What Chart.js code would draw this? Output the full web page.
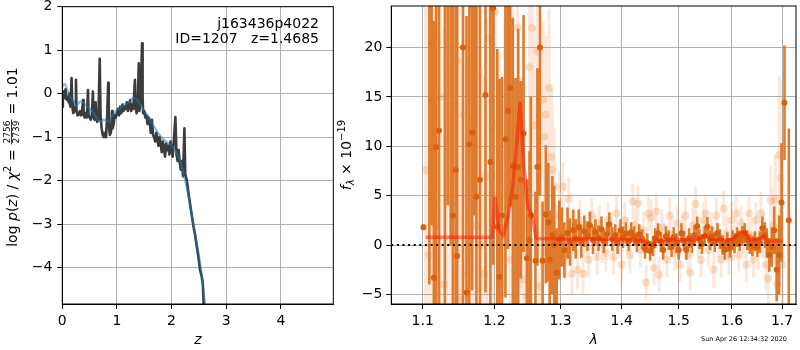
<!DOCTYPE html>
<html>
<head>
<meta charset="utf-8">
<script src="https://cdn.jsdelivr.net/npm/chart.js@4.4.1/dist/chart.umd.min.js"></script>
<style>
  html, body { margin: 0; padding: 0; background: #fff; }
  #wrap { position: relative; width: 800px; height: 350px; overflow: hidden; }
  canvas { position: absolute; top: 0; }
  #pz { left: 0; }
  #spec { left: 330px; }
</style>
</head>
<body>
<div id="wrap">
  <canvas id="pz" width="340" height="350"></canvas>
  <canvas id="spec" width="470" height="350"></canvas>
</div>
<script>
// ---- left panel: log p(z) ----
const zGrid = [
  0.00, 0.01, 0.02, 0.03, 0.04, 0.05, 0.06, 0.07, 0.08, 0.09,
  0.10, 0.12, 0.13, 0.14, 0.15, 0.17, 0.18, 0.19, 0.20, 0.22,
  0.24, 0.25, 0.26, 0.28, 0.30, 0.32, 0.34, 0.36, 0.38, 0.39,
  0.41, 0.43, 0.45, 0.47, 0.48, 0.50, 0.52, 0.54, 0.56, 0.57,
  0.59, 0.61, 0.62, 0.64, 0.66, 0.685, 0.70, 0.72, 0.74, 0.76,
  0.78, 0.80, 0.82, 0.84, 0.85, 0.87, 0.89, 0.91, 0.92, 0.94,
  0.96, 0.98, 1.00, 1.02, 1.04, 1.06, 1.08, 1.10, 1.12, 1.14,
  1.16, 1.18, 1.20, 1.22, 1.24, 1.26, 1.28, 1.30, 1.33, 1.34,
  1.36, 1.38, 1.40, 1.41, 1.43, 1.445, 1.46, 1.47, 1.48, 1.50,
  1.52, 1.54, 1.56, 1.58, 1.60, 1.62, 1.64, 1.66, 1.68, 1.70,
  1.72, 1.74, 1.76, 1.78, 1.80, 1.82, 1.84, 1.86, 1.88, 1.90,
  1.92, 1.94, 1.96, 1.98, 2.00, 2.02, 2.04, 2.07, 2.09, 2.11,
  2.13, 2.15, 2.17, 2.19, 2.21, 2.235, 2.25, 2.28, 2.31, 2.34,
  2.37, 2.40, 2.43, 2.46, 2.49, 2.52, 2.55, 2.57, 2.59, 2.61
];
const logPz = [
  -0.30, -0.05, 0.05, -0.10, 0.02, -0.08, 0.10, -0.12, -0.05, -0.15,
  -0.10, -0.20, 0.00, -0.25, -0.30, 0.36, -0.20, -0.35, -0.45, -0.40,
  -0.30, 0.32, -0.40, -0.50, -0.48, -0.40, -0.50, -0.45, -0.15, -0.50,
  -0.55, -0.45, -0.55, 0.08, -0.50, -0.55, -0.60, -0.50, 0.05, -0.55,
  -0.60, -0.20, -0.60, -0.65, -0.60, 0.80, -0.50, -0.80, -0.95, -1.00,
  -0.90, -1.00, -0.55, 0.25, -0.70, -0.95, -0.90, -0.40, -0.80, -0.70,
  -0.50, -0.55, -0.45, -0.35, -0.50, -0.30, -0.45, -0.25, -0.40, -0.30,
  -0.35, -0.20, -0.40, -0.30, -0.15, -0.40, -0.25, -0.35, 0.32, -0.30,
  -0.45, -0.25, 0.70, -0.40, -0.20, 0.45, 1.16, -0.10, -0.45, -0.40,
  -0.55, -0.50, -0.70, -0.55, -0.65, -0.90, -0.60, -0.95, -1.00, -1.10,
  -0.90, -1.05, -1.20, -1.00, -1.15, -1.35, -1.10, -1.25, -1.45, -1.15,
  -1.30, -1.20, -1.40, -1.10, -1.30, -1.45, -1.10, -0.54, -1.40, -1.55,
  -1.30, -1.60, -1.75, -1.55, -1.90, -0.80, -1.85, -2.00, -2.30, -2.55,
  -2.80, -3.05, -3.25, -3.50, -3.75, -4.05, -4.20, -4.35, -4.90, -5.30
];
const zSmooth = [
  0.00, 0.03, 0.06, 0.10, 0.15, 0.20, 0.25, 0.30, 0.35, 0.40, 0.45,
  0.50, 0.55, 0.60, 0.65, 0.70, 0.75, 0.80, 0.85, 0.90, 0.95,
  1.00, 1.05, 1.10, 1.15, 1.20, 1.25, 1.30, 1.35, 1.40, 1.45,
  1.50, 1.55, 1.60, 1.65, 1.70, 1.75, 1.80, 1.85, 1.90, 1.95,
  2.00, 2.05, 2.10, 2.15, 2.20, 2.25, 2.30, 2.35, 2.40, 2.45,
  2.50, 2.55, 2.60, 2.63
];
const logPzSmooth = [
  0.15, 0.22, 0.20, 0.05, -0.08, -0.15, -0.28, -0.22, -0.17, -0.22, -0.30,
  -0.35, -0.40, -0.50, -0.60, -0.65, -0.60, -0.62, -0.65, -0.55, -0.45,
  -0.38, -0.35, -0.28, -0.25, -0.22, -0.15, -0.10, -0.12, -0.20, -0.30,
  -0.40, -0.48, -0.58, -0.70, -0.80, -0.90, -0.98, -1.05, -1.10, -1.15,
  -1.20, -1.28, -1.38, -1.52, -1.75, -2.00, -2.30, -2.65, -3.00, -3.35,
  -3.72, -4.15, -4.70, -5.10
];
const zTicks = [0, 1, 2, 3, 4];
const pzTicks = [-4, -3, -2, -1, 0, 1, 2];
const objName = 'j163436p4022';
const objInfo = 'ID=1207   z=1.4685';

// ---- right panel: spectrum ----
const waveTicks = [1.1, 1.2, 1.3, 1.4, 1.5, 1.6, 1.7];
const fluxTicks = [-5, 0, 5, 10, 15, 20];

const darkWave = [
  1.101, 1.109, 1.112, 1.115, 1.118, 1.122, 1.130, 1.134, 1.138, 1.141,
  1.145, 1.147, 1.155, 1.160, 1.164, 1.168, 1.171, 1.174, 1.179, 1.187,
  1.194, 1.198, 1.204, 1.207, 1.211,
  1.216, 1.220, 1.223, 1.227, 1.231, 1.235, 1.239, 1.243, 1.248, 1.252,
  1.254, 1.261, 1.264, 1.268, 1.272, 1.277, 1.281, 1.283, 1.287, 1.290,
  1.294, 1.298,
  1.302, 1.306, 1.311, 1.315, 1.320, 1.324, 1.329, 1.333, 1.338, 1.343,
  1.347, 1.352, 1.356, 1.361, 1.366, 1.370, 1.375, 1.379, 1.384, 1.389,
  1.393, 1.398, 1.402, 1.407, 1.412, 1.416, 1.421, 1.426, 1.430, 1.435,
  1.440, 1.444, 1.449, 1.454, 1.458, 1.463, 1.468, 1.472, 1.477, 1.482,
  1.487, 1.491, 1.496, 1.500, 1.505, 1.510, 1.514, 1.519, 1.524, 1.529,
  1.534, 1.538, 1.543, 1.548, 1.553, 1.558, 1.562, 1.567, 1.572, 1.577,
  1.582, 1.586, 1.591, 1.596, 1.601, 1.605, 1.610, 1.615, 1.620, 1.625,
  1.630, 1.635, 1.640, 1.645, 1.650, 1.655, 1.660, 1.665, 1.669, 1.674,
  1.679, 1.684, 1.689, 1.694, 1.699, 1.705, 1.714
];
const darkFlux = [
  1.8, 26, 32, -3.3, 9.9, 11.6, 28, 26, 30, 3.0,
  7.6, -1.1, 20, -4.8, 10.2, 11.4, 28, 4.9, 6.6, 15.2,
  8.4, 24, 1.85, -3.2, 3.0,
  10.7, 13.6, 15.9, 8.0, 4.9, 7.9, 6.6, 11.3, -1.35, 0.5,
  3.0, -1.6, 7.9, 20, -1.6, 3.1, 2.3, -1.5, 1.0, 0.0,
  -2.8, 0.5,
  0.8, -0.5, 1.2, 0.3, 1.5, 0.6, 1.8, 0.4, 1.4, 0.9,
  2.0, 0.5, 1.3, 0.7, 1.6, 0.4, 1.1, 2.1, 0.6, 1.0,
  0.2, 1.5, 0.8, 1.2, 0.4, 1.3, 0.9, 0.3, 1.1, 0.6,
  -0.4, 0.2, -0.6, -0.1, 0.7, 1.2, 0.3, -0.5, 0.9, 0.5,
  -0.2, 0.8, 0.2, -0.5, 1.2, 0.4, -0.5, 0.7, 0.2, 1.0,
  1.9, 0.6, 0.1, 0.9, 1.85, 0.5, 0.9, 0.3, 1.2, 0.6,
  0.0, -0.5, 0.3, -0.3, 0.5, 0.2, 0.8, 0.4, 0.9, 1.2,
  0.5, 0.1, -0.1, 0.4, -0.2, 0.3, 1.7, 1.0, 0.2, -1.0,
  -0.2, 1.5, -2.5, -1.0, 4.3, 14.4, 2.5
];
const darkErr = [
  0.3, 30, 30, 26, 28, 24, 35, 22, 30, 25,
  22, 26, 26, 28, 18, 16, 25, 22, 20, 20,
  16, 26, 18, 20, 14,
  16, 14, 12, 15, 12, 14, 10, 12, 8, 9,
  12, 7, 10, 15, 6, 7, 6, 5, 6, 6,
  4.5, 4,
  3.0, 2.8, 2.6, 2.4, 2.1, 2.0, 1.8, 1.7, 1.6, 1.5,
  1.4, 1.4, 1.3, 1.3, 1.3, 1.2, 1.2, 1.2, 1.2, 1.1,
  1.1, 1.1, 1.1, 1.1, 1.0, 1.0, 1.0, 1.0, 1.0, 1.0,
  1.0, 1.0, 1.0, 1.0, 1.0, 1.0, 1.0, 1.0, 1.0, 1.0,
  1.0, 1.0, 1.0, 1.0, 1.0, 1.0, 1.0, 1.0, 1.0, 1.0,
  1.0, 1.0, 1.0, 1.0, 1.0, 1.0, 1.0, 1.0, 1.0, 1.0,
  1.0, 1.0, 1.0, 1.0, 1.0, 1.0, 1.0, 1.0, 1.0, 1.0,
  1.0, 1.0, 1.0, 1.0, 1.0, 1.1, 1.2, 1.3, 1.5, 1.7,
  2.0, 2.4, 3.2, 4.0, 6.0, 5.8, 9.3
];

const faintWave = [
  1.104, 1.108, 1.113, 1.118, 1.124, 1.129, 1.133, 1.138, 1.143, 1.147,
  1.151, 1.156, 1.160, 1.165, 1.169, 1.173, 1.177, 1.181, 1.185, 1.189,
  1.193, 1.197, 1.201, 1.207, 1.211, 1.215, 1.219, 1.223, 1.226, 1.230,
  1.234, 1.239, 1.243, 1.248, 1.252, 1.256, 1.259, 1.264, 1.268, 1.273,
  1.275, 1.277, 1.282, 1.286, 1.287, 1.290, 1.294, 1.298,
  1.304, 1.308, 1.313, 1.318, 1.322, 1.327, 1.331, 1.336, 1.340, 1.345,
  1.350, 1.354, 1.359, 1.363, 1.368, 1.373, 1.377, 1.382, 1.386, 1.391,
  1.396, 1.400, 1.405, 1.409, 1.414, 1.419, 1.423, 1.428, 1.432, 1.437,
  1.442, 1.446, 1.451, 1.456, 1.460, 1.465, 1.470, 1.474, 1.479, 1.484,
  1.488, 1.493, 1.498, 1.502, 1.507, 1.512, 1.517, 1.521, 1.526, 1.531,
  1.536, 1.541, 1.546, 1.550, 1.555, 1.560, 1.565, 1.570, 1.574, 1.579,
  1.584, 1.589, 1.594, 1.599, 1.603, 1.608, 1.613, 1.618, 1.623, 1.628,
  1.633, 1.637, 1.642, 1.647, 1.652, 1.657, 1.662, 1.667, 1.672, 1.677,
  1.682, 1.686, 1.690, 1.694, 1.697, 1.701
];
const faintFlux = [
  7.6, -1, 19, 2, 15, -4, 4.9, 22, 14.2, 18.6,
  -5.5, 13.2, -3, 24.5, 10.5, 2, 17.2, 0, -2.9, 7,
  21, 12, 23.6, 4.9, -4, 9, 19.4, -1.5, 16, -2.5,
  22, 6, -3.5, -5.2, 18, 22.0, 12.1, 19.6, -4.2, 14.7,
  11.0, 13.2, 15.9, 8.9, 7.6, 5.9, -1, 3,
  5.9, -1, 4.7, -2.9, 1.5, -2.5, 2.5, -2.9, 0.5, -1.5,
  3.0, 1.2, -1.2, 2.2, 0.0, -0.8, 2.5, 1.5, -1.2, 3.2,
  0.5, -2.0, 2.5, 1.0, -1.0, 4.4, 2.0, 4.2, -0.5, 1.5,
  -3.8, 3.2, 2.8, -2.3, 3.4, -3.0, 1.8, 0.5, -1.5, 3.0,
  1.0, -0.8, 2.2, -2.0, 1.2, 3.0, -1.0, -2.8, 2.0, 4.15,
  0.5, -1.5, 2.5, 3.2, -0.5, 1.5, -2.5, 3.0, 0.5, -1.5,
  3.7, 1.2, -1.2, 2.5, 0.2, 3.2, -1.0, 2.2, 0.5, -2.0,
  3.2, 1.0, -1.5, 2.5, -0.5, 3.2, 1.0, -2.0, -3.4, 4.5,
  2.0, 4.6, -4.0, 9.1, 6.75, -2
];
const faintErr = [
  28, 25, 28, 26, 25, 26, 24, 30, 22, 28,
  25, 20, 22, 26, 20, 18, 22, 18, 20, 16,
  20, 18, 22, 15, 15, 14, 15, 12, 12, 12,
  14, 11, 10, 10, 11, 12, 10, 9, 9, 8,
  9, 8, 8, 7, 6, 6, 5, 4.5,
  2.5, 2.5, 2.2, 2.2, 2.0, 2.0, 2.0, 2.0, 1.8, 1.8,
  1.8, 1.8, 1.8, 1.8, 1.8, 1.8, 1.8, 1.8, 1.8, 1.8,
  1.8, 1.8, 1.8, 1.8, 1.8, 1.8, 1.8, 1.8, 1.8, 1.8,
  1.8, 1.8, 1.8, 1.8, 1.8, 1.8, 1.8, 1.8, 1.8, 1.8,
  1.8, 1.8, 1.8, 1.8, 1.8, 1.8, 1.8, 1.8, 1.8, 1.8,
  1.8, 1.8, 1.8, 1.8, 1.8, 1.8, 1.8, 1.8, 1.8, 1.8,
  1.8, 1.8, 1.8, 1.8, 1.8, 1.8, 1.8, 1.8, 1.8, 1.8,
  1.8, 1.8, 1.8, 1.8, 2.0, 2.2, 2.4, 2.6, 3.0, 3.5,
  4.0, 4.5, 5.0, 8, 10, 15
];

const modelWave = [
  1.104, 1.197, 1.2005, 1.207, 1.213, 1.220, 1.227, 1.233, 1.238, 1.243,
  1.249, 1.256, 1.262, 1.30, 1.35, 1.40, 1.43, 1.445, 1.452, 1.46,
  1.48, 1.50, 1.53, 1.55, 1.56, 1.60, 1.615, 1.625, 1.635, 1.65,
  1.662, 1.672, 1.70
];
const modelFlux = [
  0.8, 0.8, 4.9, 1.4, 1.0, 3.0, 6.0, 10.5, 14.5, 8.5,
  4.0, 3.0, 0.65, 0.6, 0.6, 0.55, 0.5, 0.15, 0.0, 0.45,
  0.5, 0.55, 0.5, 1.0, 0.55, 0.5, 1.3, 1.3, 0.5, 0.6,
  0.85, 0.4, 0.4
];
const timeStamp = 'Sun Apr 26 12:34:32 2020';

// ---------------------------------------------------------------
const FAMILY = "'DejaVu Sans', sans-serif";
Chart.defaults.font.family = FAMILY;
Chart.defaults.font.size = 14;
Chart.defaults.color = '#000';

const fmtTick = (v) => (v < 0 ? '\u2212' + Math.abs(v) : String(v));

function pairs(xs, ys) {
  return xs.map((x, i) => ({ x, y: ys[i] }));
}

// vertical error bars as one broken line: low, high, gap
function errorBars(xs, ys, es) {
  const out = [];
  xs.forEach((x, i) => {
    out.push({ x, y: ys[i] - es[i] }, { x, y: ys[i] + es[i] }, { x, y: null });
  });
  return out;
}

function fixedTicks(values) {
  return (scale) => {
    scale.ticks = values.map((value) => ({ value }));
  };
}

function noEdgePadding(size, key) {
  return (scale) => {
    scale[key] = size;
    scale.paddingTop = 0;
    scale.paddingBottom = 0;
    scale.paddingLeft = 0;
    scale.paddingRight = 0;
  };
}

const gridStyle = {
  color: '#b0b0b0',
  lineWidth: 1,
  tickColor: '#000',
  tickLength: 5,
  tickWidth: 1,
};
const borderStyle = { color: '#000', width: 1 };

const framePlugin = {
  id: 'frame',
  afterDatasetsDraw(chart) {
    const { ctx, chartArea: a } = chart;
    ctx.save();
    ctx.strokeStyle = '#000';
    ctx.lineWidth = 1;
    ctx.strokeRect(a.left, a.top, a.right - a.left, a.bottom - a.top);
    ctx.restore();
  },
};

// draw a rotated label built from runs of text (for sub/superscripts)
function drawRotatedRuns(ctx, cx, cy, runs) {
  ctx.save();
  ctx.translate(cx, cy);
  ctx.rotate(-Math.PI / 2);
  ctx.fillStyle = '#000';
  ctx.textBaseline = 'alphabetic';
  let total = 0;
  runs.forEach((r) => {
    ctx.font = r.font;
    if (r.frac) {
      r.w = Math.max(ctx.measureText(r.frac[0]).width, ctx.measureText(r.frac[1]).width) + 3;
    } else {
      r.w = ctx.measureText(r.t).width;
    }
    total += r.w;
  });
  let x = -total / 2;
  runs.forEach((r) => {
    ctx.font = r.font;
    if (r.frac) {
      ctx.textAlign = 'center';
      ctx.fillText(r.frac[0], x + r.w / 2, -1.8);
      ctx.fillText(r.frac[1], x + r.w / 2, 6.6);
      ctx.fillRect(x + 0.5, -0.9, r.w - 1, 0.8);
      ctx.textAlign = 'left';
    } else {
      ctx.textAlign = 'left';
      ctx.fillText(r.t, x, 5 + (r.dy || 0));
    }
    x += r.w;
  });
  ctx.restore();
}

const N14 = '14px ' + FAMILY;
const I14 = 'italic 14px ' + FAMILY;

// ---------------- left chart ----------------
new Chart(document.getElementById('pz'), {
  type: 'line',
  data: {
    datasets: [
      {
        data: pairs(zSmooth, logPzSmooth),
        borderColor: 'rgba(31,119,180,0.5)',
        borderWidth: 2.2,
        pointRadius: 0,
        tension: 0.35,
        clip: 0,
        order: 0,
      },
      {
        data: pairs(zGrid, logPz),
        borderColor: '#3c3c3c',
        borderWidth: 2.6,
        borderJoinStyle: 'round',
        pointRadius: 0,
        tension: 0,
        clip: 0,
        order: 1,
      },
    ],
  },
  options: {
    responsive: false,
    animation: false,
    events: [],
    layout: { padding: { left: 0, top: 6.7, right: 6.7, bottom: 0 } },
    plugins: { legend: { display: false }, tooltip: { enabled: false } },
    scales: {
      x: {
        type: 'linear',
        min: 0,
        max: 4.96,
        afterBuildTicks: fixedTicks(zTicks),
        afterFit: noEdgePadding(46, 'height'),
        grid: gridStyle,
        border: borderStyle,
        ticks: { padding: 4, autoSkip: false, maxRotation: 0, callback: fmtTick },
        title: {
          display: true,
          text: 'z',
          font: { style: 'italic', size: 14 },
          padding: { top: 0, bottom: 1 },
        },
      },
      y: {
        type: 'linear',
        min: -4.84,
        max: 2,
        afterBuildTicks: fixedTicks(pzTicks),
        afterFit: noEdgePadding(62.3, 'width'),
        grid: gridStyle,
        border: borderStyle,
        ticks: { padding: 5, autoSkip: false, callback: fmtTick },
      },
    },
  },
  plugins: [
    framePlugin,
    {
      id: 'pzText',
      afterDraw(chart) {
        const { ctx } = chart;
        ctx.save();
        ctx.fillStyle = '#000';
        ctx.font = N14;
        ctx.textAlign = 'right';
        ctx.textBaseline = 'middle';
        ctx.fillText(objName, 319, 24);
        ctx.fillText(objInfo, 319, 39);
        ctx.restore();
        drawRotatedRuns(ctx, 12, 157, [
          { t: 'log ', font: N14 },
          { t: 'p', font: I14 },
          { t: '(', font: N14 },
          { t: 'z', font: I14 },
          { t: ') / ', font: N14 },
          { t: '\u03C7', font: I14 },
          { t: '2', font: '10px ' + FAMILY, dy: -6 },
          { t: ' = ', font: N14 },
          { frac: ['2756', '2739'], font: '9px ' + FAMILY },
          { t: ' = 1.01', font: N14 },
        ]);
      },
    },
  ],
});

// ---------------- right chart ----------------
const ORANGE_BAR = '#e07a2c';
const ORANGE_DOT = '#d9600e';

new Chart(document.getElementById('spec'), {
  type: 'line',
  data: {
    datasets: [
      {
        // zero line
        data: [{ x: 1.059, y: 0 }, { x: 1.729, y: 0 }],
        borderColor: '#000',
        borderWidth: 2,
        borderDash: [2, 3.6],
        pointRadius: 0,
        clip: 0,
        order: 0,
      },
      {
        data: pairs(modelWave, modelFlux),
        borderColor: 'rgba(255,20,0,0.5)',
        borderWidth: 3.5,
        pointRadius: 0,
        clip: 0,
        order: 1,
      },
      {
        data: pairs(darkWave, darkFlux),
        showLine: false,
        pointRadius: 3,
        pointBorderWidth: 0,
        pointBackgroundColor: ORANGE_DOT,
        clip: 0,
        order: 2,
      },
      {
        data: errorBars(darkWave, darkFlux, darkErr),
        borderColor: ORANGE_BAR,
        borderWidth: 2.6,
        borderCapStyle: 'butt',
        spanGaps: false,
        pointRadius: 0,
        clip: 0,
        order: 3,
      },
      {
        data: pairs(faintWave, faintFlux),
        showLine: false,
        pointRadius: 4,
        pointBorderWidth: 0,
        pointBackgroundColor: 'rgba(236,140,70,0.28)',
        clip: 0,
        order: 4,
      },
      {
        data: errorBars(faintWave, faintFlux, faintErr),
        borderColor: 'rgba(236,140,70,0.2)',
        borderWidth: 3,
        borderCapStyle: 'butt',
        spanGaps: false,
        pointRadius: 0,
        clip: 0,
        order: 5,
      },
    ],
  },
  options: {
    responsive: false,
    animation: false,
    events: [],
    layout: { padding: { left: 0, top: 6, right: 0.7, bottom: 0 } },
    plugins: { legend: { display: false }, tooltip: { enabled: false } },
    scales: {
      x: {
        type: 'logarithmic',
        min: 1.059,
        max: 1.729,
        afterBuildTicks: fixedTicks(waveTicks),
        afterFit: noEdgePadding(46, 'height'),
        grid: gridStyle,
        border: borderStyle,
        ticks: {
          padding: 4,
          autoSkip: false,
          maxRotation: 0,
          callback: (v) => Number(v).toFixed(1),
        },
        title: {
          display: true,
          text: '\u03BB',
          font: { style: 'italic', size: 14 },
          padding: { top: 0, bottom: 1 },
        },
      },
      y: {
        type: 'linear',
        min: -5.97,
        max: 24.2,
        afterBuildTicks: fixedTicks(fluxTicks),
        afterFit: noEdgePadding(61.3, 'width'),
        grid: gridStyle,
        border: borderStyle,
        ticks: { padding: 4, autoSkip: false, callback: fmtTick },
      },
    },
  },
  plugins: [
    framePlugin,
    {
      id: 'specText',
      afterDraw(chart) {
        const { ctx } = chart;
        drawRotatedRuns(ctx, 16, 155, [
          { t: 'f', font: I14 },
          { t: '\u03BB', font: 'italic 10px ' + FAMILY, dy: 3 },
          { t: ' \u00D7 10', font: N14 },
          { t: '\u221219', font: '10px ' + FAMILY, dy: -6 },
        ]);
        ctx.save();
        ctx.fillStyle = '#000';
        ctx.font = '6.5px ' + FAMILY;
        ctx.textAlign = 'right';
        ctx.textBaseline = 'middle';
        ctx.fillText(timeStamp, 457, 339);
        ctx.restore();
      },
    },
  ],
});
</script>
</body>
</html>
